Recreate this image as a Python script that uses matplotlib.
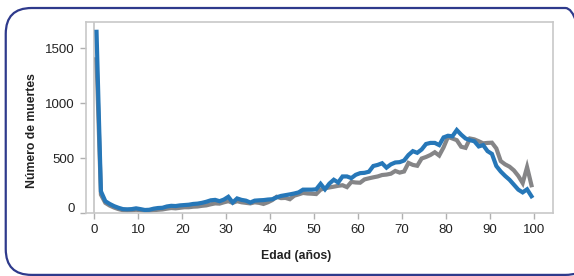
import numpy as np
import matplotlib
matplotlib.use("Agg")
import matplotlib.pyplot as plt
from matplotlib.patches import FancyBboxPatch
from matplotlib.transforms import ScaledTranslation

# edad (punto medio de cada año) y número de muertes
edad = np.arange(0.5, 100, 1.0)

muertes_azul = [
    1650, 200, 110, 85, 65, 50, 38, 36, 38, 45,
    38, 30, 32, 42, 48, 50, 62, 68, 66, 72,
    75, 78, 85, 88, 95, 105, 118, 122, 110, 125,
    150, 98, 135, 122, 115, 98, 115, 118, 120, 125,
    128, 145, 158, 165, 172, 180, 190, 215, 215, 215,
    218, 268, 218, 270, 305, 280, 335, 335, 320, 350,
    365, 368, 378, 430, 440, 455, 415, 445, 462, 465,
    480, 530, 565, 550, 580, 630, 640, 640, 620, 690,
    705, 700, 757, 715, 680, 665, 655, 608, 620, 565,
    540, 430, 380, 340, 305, 260, 215, 190, 218, 155,
]

muertes_gris = [
    1400, 170, 95, 70, 52, 38, 28, 26, 28, 32,
    28, 22, 22, 28, 32, 35, 42, 48, 45, 50,
    55, 55, 60, 62, 68, 72, 82, 90, 88, 100,
    110, 95, 110, 100, 95, 90, 100, 95, 85, 100,
    120, 150, 138, 140, 128, 160, 172, 185, 180, 178,
    175, 215, 228, 235, 242, 250, 255, 238, 285, 280,
    278, 308, 318, 327, 335, 348, 352, 360, 385, 370,
    380, 458, 440, 432, 498, 512, 530, 555, 525, 600,
    695, 680, 665, 605, 595, 680, 672, 655, 636, 640,
    642, 590, 475, 445, 424, 390, 340, 275, 420, 255,
]

xticks = [0, 10, 20, 30, 40, 50, 60, 70, 80, 90, 100]
yticks = [0, 500, 1000, 1500]

plt.rcParams['font.family'] = ['Liberation Sans Narrow', 'Liberation Sans', 'DejaVu Sans']

fig = plt.figure(figsize=(5.74, 2.76), dpi=100)

# marco redondeado
marco = FancyBboxPatch((0.01, 0.004), 1.02, 0.967, transform=fig.transFigure,
                       boxstyle="round,pad=0,rounding_size=0.045",
                       fill=False, edgecolor='#2e3a8c', linewidth=1.6,
                       mutation_aspect=574 / 276)
fig.patches.append(marco)

ax = fig.add_axes([0.1498, 0.2272, 0.8136, 0.6942])
ax.plot(edad, muertes_gris, color='#858587', linewidth=3.0, solid_joinstyle='miter')
ax.plot(edad, muertes_azul, color='#2677b8', linewidth=3.0, solid_joinstyle='miter')
ax.axvline(0, color='#c8c8c8', linewidth=1.3, zorder=0)

ax.set_xlim(-1.9, 104.4)
ax.set_ylim(0, 1742)
ax.set_xticks(xticks)
ax.set_yticks(yticks)
for s in ax.spines.values():
    s.set_color('#c8c8c8')
    s.set_linewidth(1.2)
ax.tick_params(axis='both', colors='#b0b0b0', length=4, width=1,
               labelcolor='#222222', labelsize=9.5)
ax.tick_params(axis='x', pad=4)
ax.tick_params(axis='y', pad=4)

ax.set_xlabel('Edad (años)', fontsize=8.8, fontweight='bold', color='#222222')
ax.set_ylabel('Número de muertes', fontsize=8.8, fontweight='bold', color='#222222')
ax.xaxis.set_label_coords(0.45, -0.19)
ax.yaxis.set_label_coords(-0.103, 0.43)

# el "0" del eje y va un poco más arriba
etiqueta0 = ax.get_yticklabels()[0]
etiqueta0.set_transform(etiqueta0.get_transform() + ScaledTranslation(0, 6 / 100, fig.dpi_scale_trans))

fig.savefig('out.png', dpi=100)
